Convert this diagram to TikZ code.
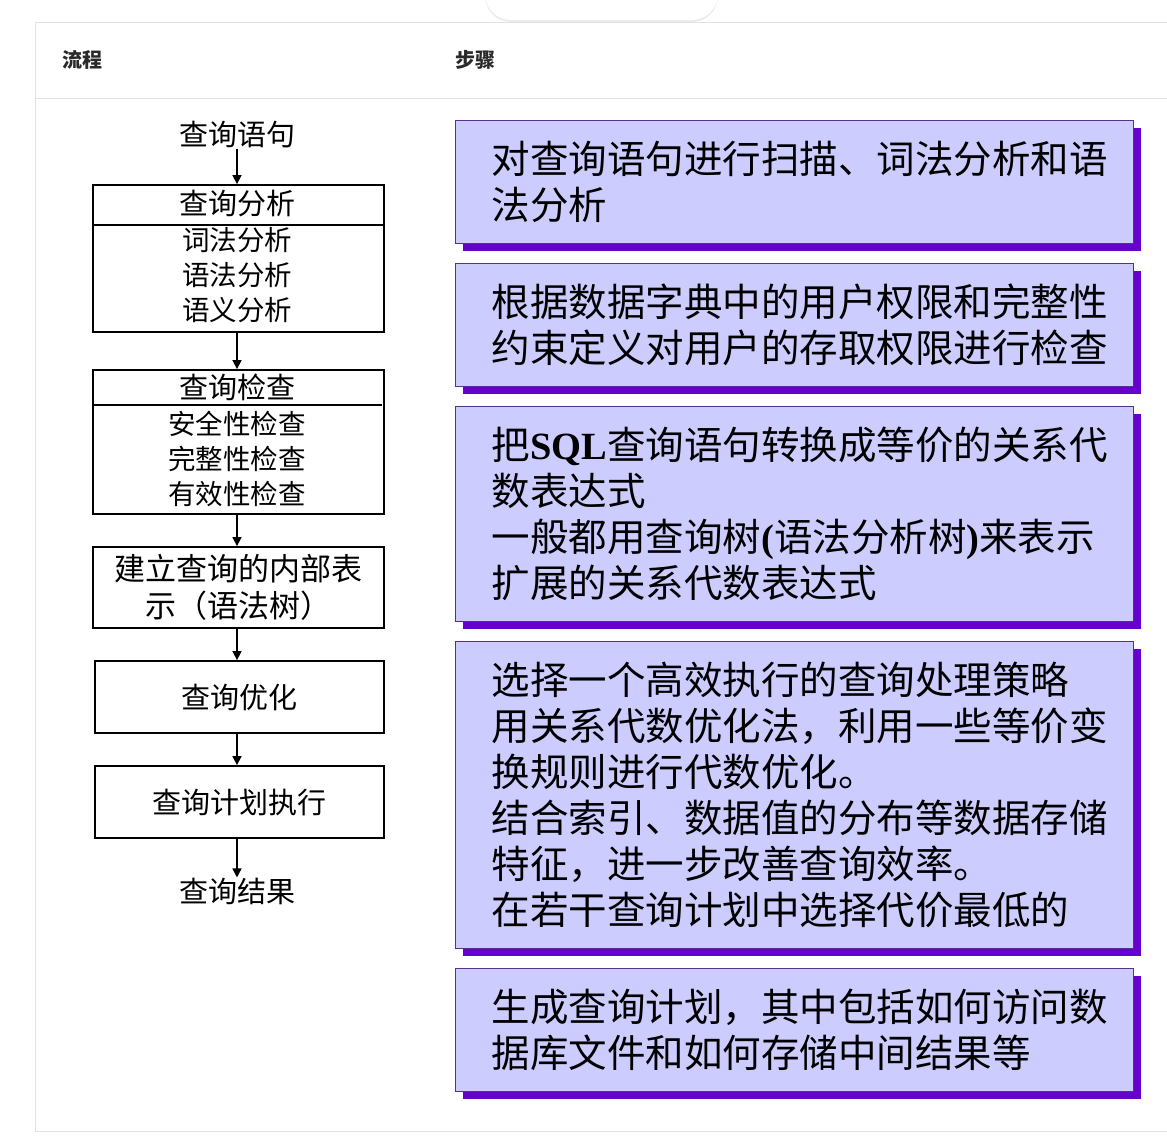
\documentclass[tikz,border=0pt]{standalone}
\usepackage{fontspec}
\setmainfont{Liberation Serif}
\newfontfamily\cjk{Noto Sans CJK SC}
\usepackage{xcolor}
\usepackage{tikz}
\usetikzlibrary{arrows.meta}
\usetikzlibrary{shadows}
\pgfdeclarelayer{bg}
\pgfsetlayers{bg,main}

\definecolor{boxfill}{HTML}{CCCCFF}
\definecolor{boxshade}{HTML}{6600CC}
\definecolor{boxline}{HTML}{5A2D91}
\definecolor{tableline}{HTML}{E3E3E3}
\definecolor{headgray}{HTML}{2A2A2A}

\tikzset{
  flowbox/.style={draw, line width=1.8pt, minimum width=291pt, inner sep=0pt},
  flowtext/.style={font=\cjk\fontsize{29}{34}\selectfont, inner sep=0pt},
  flowitem/.style={font=\cjk\fontsize{27.5}{32}\selectfont, inner sep=0pt},
  flowarrow/.style={line width=1.5pt, -{Triangle[width=9pt,length=9pt]}},
  stepbox/.style={draw=boxline, line width=1pt, fill=boxfill, minimum width=678pt, inner sep=0pt,
    drop shadow={shadow xshift=8pt, shadow yshift=-8pt, fill=boxshade, opacity=1}},
  steptext/.style={font=\cjk\fontsize{38.5}{46}\selectfont, align=left, inner sep=0pt, anchor=west},
  headtext/.style={font=\cjk\bfseries\fontsize{20}{24}\selectfont, text=headgray, inner sep=0pt, anchor=west}
}

\begin{document}
\begin{tikzpicture}[x=1pt, y=-1pt]
\useasboundingbox (0, 0) rectangle (1167, 1141);
\begin{scope}
  \node[headtext] (head0) at (62, 60) {流程}; %header
  \node[headtext] (head1) at (455, 60) {步骤}; %header
  % flow
  \node[flowtext] (query) at (237, 135) {查询语句}; %input
  \node[flowbox, minimum height=147pt] (parse) at (238.5, 258.5) {}; %parse
  \node[flowtext] (parse0) at (237, 204) {查询分析};
  \node[flowitem] (parse1) at (237, 240) {词法分析};
  \node[flowitem] (parse2) at (237, 275) {语法分析};
  \node[flowitem] (parse3) at (237, 310) {语义分析};
  \draw[line width=1.5pt] (parse.west |- 0,225) -- (parse.east |- 0,225);
  \node[flowbox, minimum height=144pt] (check) at (238.5, 442) {}; %check
  \node[flowtext] (check0) at (237, 387) {查询检查};
  \node[flowitem] (check1) at (237, 424) {安全性检查};
  \node[flowitem] (check2) at (237, 459) {完整性检查};
  \node[flowitem] (check3) at (237, 494) {有效性检查};
  \draw[line width=1.5pt] (check.west |- 0,405) -- ([xshift=-3pt]check.east |- 0,405);
  \node[flowbox, minimum height=81pt, flowtext, align=center, font=\cjk\fontsize{31}{37}\selectfont] (tree) at (238.5, 587.5) {建立查询的内部表\\示（语法树）}; %tree
  \node[flowbox, minimum width=289pt, minimum height=72pt, flowtext] (optim) at (239.5, 697) {查询优化}; %optimize
  \node[flowbox, minimum width=289pt, minimum height=72pt, flowtext] (exec) at (239.5, 802) {查询计划执行}; %execute
  \node[flowtext] (result) at (237, 891) {查询结果}; %output
  \draw[flowarrow] (query.south) -- (query.south |- parse.north);
  \draw[flowarrow] (parse.south -| query) -- (query |- check.north);
  \draw[flowarrow] (check.south -| query) -- (query |- tree.north);
  \draw[flowarrow] (tree.south -| query) -- (query |- optim.north);
  \draw[flowarrow] (optim.south -| query) -- (query |- exec.north);
  \draw[flowarrow] (exec.south -| query) -- (query |- result.north);
  % steps
  \node[stepbox, minimum height=123pt] (box1) at (794, 181.5) {};
  \node[steptext] (step1) at ([xshift=37pt]box1.west) {对查询语句进行扫描、词法分析和语\\法分析}; %step
  \node[stepbox, minimum height=123pt] (box2) at (794, 324.5) {};
  \node[steptext] (step2) at ([xshift=37pt]box2.west) {根据数据字典中的用户权限和完整性\\约束定义对用户的存取权限进行检查}; %step
  \node[stepbox, minimum height=215pt] (box3) at (794, 513.5) {};
  \node[steptext] (step3) at ([xshift=37pt]box3.west) {把{\rmfamily\bfseries SQL}查询语句转换成等价的关系代\\数表达式\\一般都用查询树{\rmfamily\bfseries (}语法分析树{\rmfamily\bfseries )}来表示\\扩展的关系代数表达式}; %step
  \node[stepbox, minimum height=307pt] (box4) at (794, 794.5) {};
  \node[steptext] (step4) at ([xshift=37pt]box4.west) {选择一个高效执行的查询处理策略\\用关系代数优化法，利用一些等价变\\换规则进行代数优化。\\结合索引、数据值的分布等数据存储\\特征，进一步改善查询效率。\\在若干查询计划中选择代价最低的}; %step
  \node[stepbox, minimum height=123pt] (box5) at (794, 1029.5) {};
  \node[steptext] (step5) at ([xshift=37pt]box5.west) {生成查询计划，其中包括如何访问数\\据库文件和如何存储中间结果等}; %step
\begin{pgfonlayer}{bg}
  \fill[white] (0, 0) rectangle (1167, 1141);
  \draw[tableline, line width=1pt] (1167, 22.5) -- (35, 22.5) -- (35, 1131) -- (1167, 1131);
  \draw[tableline, line width=1pt] (35, 98) -- (1167, 98);
  \path[fill=white, rounded corners=26pt, drop shadow={shadow xshift=0pt, shadow yshift=-2pt, fill=black, opacity=0.08}] (485, -40) rectangle (718, 20);
\end{pgfonlayer}
\end{scope}
\end{tikzpicture}
\end{document}
